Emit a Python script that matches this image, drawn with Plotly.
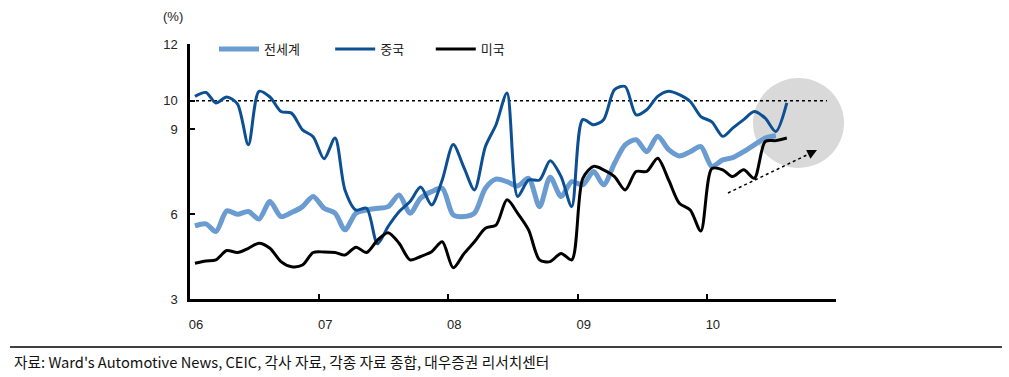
import plotly.graph_objects as go

# ---------------- data (monthly, Jan 2006 - Aug 2010) ----------------
world = [5.58, 5.65, 5.38, 6.11, 5.99, 6.09, 5.82, 6.44, 5.91, 6.05, 6.26, 6.62,
         6.20, 6.03, 5.44, 6.03, 6.14, 6.20, 6.26, 6.67, 6.03, 6.56, 6.79, 6.91,
         5.97, 5.91, 6.03, 6.91, 7.23, 7.14, 6.99, 7.26, 6.26, 7.30, 6.62, 7.14,
         7.03, 7.50, 7.03, 7.79, 8.44, 8.62, 8.20, 8.74, 8.27, 8.05, 8.20, 8.38,
         7.68, 7.91, 7.99, 8.20, 8.44, 8.68, 8.76]
china = [10.15, 10.29, 9.92, 10.13, 9.89, 8.44, 10.33, 10.13, 9.62, 9.56, 8.97, 8.73,
         7.95, 8.68, 6.85, 6.14, 6.20, 4.95, 5.56, 6.08, 6.44, 6.95, 6.32, 7.20,
         8.45, 7.62, 6.85, 8.38, 9.15, 10.27, 6.62, 7.20, 7.20, 7.88, 7.32, 6.26,
         9.33, 9.15, 9.33, 10.39, 10.50, 9.50, 9.68, 10.15, 10.33, 10.21, 9.97, 9.44,
         9.25, 8.74, 9.03, 9.33, 9.62, 9.38, 8.91, 9.92]
usa = [4.26, 4.34, 4.38, 4.71, 4.64, 4.79, 4.97, 4.79, 4.32, 4.14, 4.20, 4.64,
       4.66, 4.64, 4.55, 4.83, 4.64, 5.08, 5.34, 4.97, 4.38, 4.50, 4.67, 5.02,
       4.10, 4.61, 5.02, 5.50, 5.61, 6.50, 6.03, 5.44, 4.38, 4.32, 4.61, 4.38,
       7.25, 7.68, 7.56, 7.32, 6.85, 7.50, 7.50, 7.97, 7.20, 6.38, 6.14, 5.40,
       7.60, 7.56, 7.32, 7.56, 7.26, 8.56, 8.59, 8.68]
series_names = ["전세계", "중국", "미국"]
year_ticks = ["2006-01-01", "2007-01-01", "2008-01-01", "2009-01-01", "2010-01-01", "2011-01-01"]
year_labels = ["06", "07", "08", "09", "10", ""]
y_ticks = [3, 6, 9, 10, 12]
ref_level = 10
source_text = "자료: Ward's Automotive News, CEIC, 각사 자료, 각종 자료 종합, 대우증권 리서치센터"

def months(n):
    return [f"{2006 + m // 12}-{m % 12 + 1:02d}-15" for m in range(n)]

# ---------------- layout geometry ----------------
W, H = 1009, 377
L, R, T, B = 190, 836, 44, 299  # plot area in pixels

def px(x):
    return (x - L) / (R - L)

def py(y):
    return (B - y) / (B - T)

fig = go.Figure()
colors = ["#6A9BD1", "#0D4F93", "#000000"]
widths = [5, 3, 3]
pads = ["\u00a0" * 7, "\u00a0" * 6, ""]  # extra spacing between legend entries
for name, vals, c, w, pad in zip(series_names, [world, china, usa], colors, widths, pads):
    fig.add_trace(go.Scatter(
        x=months(len(vals)), y=vals, name=name + pad, mode="lines",
        line=dict(color=c, width=w, shape="spline", smoothing=0.8),
    ))

font_main = "Liberation Sans, Arial, Noto Sans CJK KR, sans-serif"

fig.update_layout(
    width=W, height=H,
    margin=dict(l=L, r=W - R, t=T, b=H - B, pad=0),
    paper_bgcolor="white", plot_bgcolor="white",
    font=dict(family=font_main, size=13, color="#222"),
    showlegend=True,
    legend=dict(orientation="h", x=px(214), y=py(49), xanchor="left", yanchor="middle",
                bgcolor="rgba(0,0,0,0)", itemwidth=40, font=dict(size=13),
                traceorder="normal"),
    xaxis=dict(
        range=["2006-01-01", "2011-01-01"], tickvals=year_ticks, ticktext=year_labels,
        showgrid=False, zeroline=False, showline=True, linecolor="black", linewidth=2.5,
        ticks="inside", ticklen=5, tickwidth=2, tickcolor="black",
        ticklabelstandoff=12, ticklabelshift=6, tickfont=dict(size=13, color="#222"),
    ),
    yaxis=dict(
        range=[3, 12], tickvals=y_ticks, ticktext=[str(v) for v in y_ticks],
        showgrid=False, zeroline=False, showline=True, linecolor="black", linewidth=2.5,
        ticks="inside", ticklen=5, tickwidth=2, tickcolor="black",
        ticklabelstandoff=7, tickfont=dict(size=13, color="#222"),
    ),
)

# highlight circle
fig.add_shape(type="circle", xref="paper", yref="paper",
              x0=px(753), x1=px(844), y0=py(168), y1=py(78),
              fillcolor="#D9D9D9", line=dict(width=0), layer="below")
# 10% reference line
fig.add_shape(type="line", xref="paper", yref="y", x0=0, x1=px(827), y0=ref_level, y1=ref_level,
              line=dict(color="black", width=1.5, dash="dot"), layer="below")
# dotted trend arrow
fig.add_shape(type="line", xref="paper", yref="paper", x0=px(728), y0=py(193), x1=px(811), y1=py(153),
              line=dict(color="black", width=1.5, dash="dot"))
fig.add_annotation(xref="paper", yref="paper", x=px(817), y=py(150), ax=-8, ay=4,
                   text="", showarrow=True, arrowhead=2, arrowsize=1.3, arrowwidth=1.5,
                   arrowcolor="black")
# unit label
fig.add_annotation(xref="paper", yref="paper", x=px(173), y=py(17), text="(%)",
                   showarrow=False, xanchor="center", yanchor="middle",
                   font=dict(size=13, color="#222"))
# footer rule + source
fig.add_shape(type="line", xref="paper", yref="paper", x0=px(10), x1=px(1002), y0=py(347), y1=py(347),
              line=dict(color="black", width=1.5))
fig.add_annotation(xref="paper", yref="paper", x=px(12), y=py(361), text=source_text,
                   showarrow=False, xanchor="left", yanchor="middle",
                   font=dict(size=14.7, color="#111", family="Noto Sans CJK KR, sans-serif"))

fig.write_html("out.html", config={"displayModeBar": False},
               post_script="document.body.style.margin='0';")
